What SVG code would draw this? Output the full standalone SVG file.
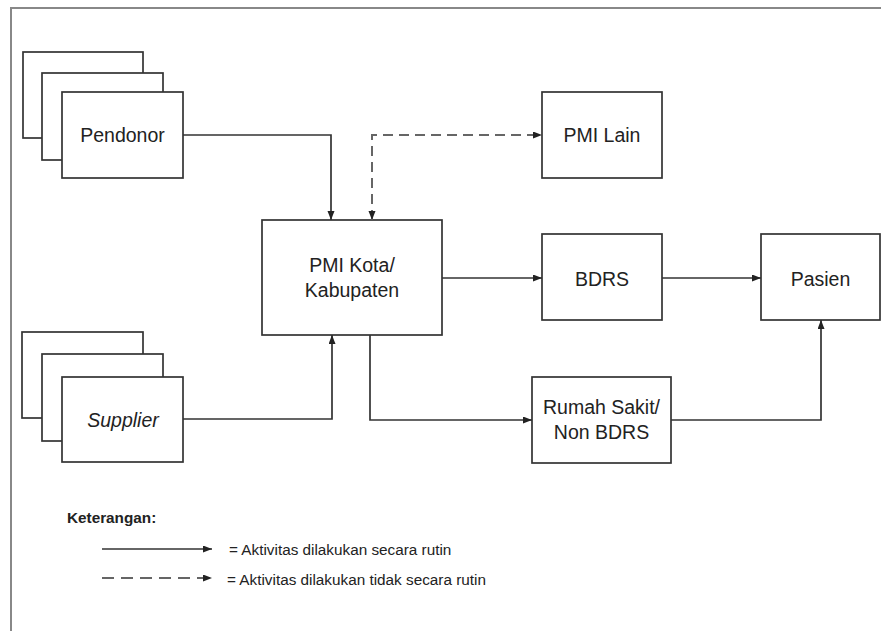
<svg xmlns="http://www.w3.org/2000/svg" width="881" height="631" viewBox="0 0 881 631">
<defs>
<marker id="arr" markerUnits="userSpaceOnUse" markerWidth="10" markerHeight="8" refX="9" refY="3.5" orient="auto-start-reverse">
<path d="M0,0 L9,3.5 L0,7 z" fill="#222"/>
</marker>
</defs>
<style>
.box{fill:#fff;stroke:#333;stroke-width:1.7}
.t{font-family:"Liberation Sans",Arial,sans-serif;font-size:19.5px;fill:#222;text-anchor:middle}
.c{fill:none;stroke:#333;stroke-width:1.7}
.d{fill:none;stroke:#666;stroke-width:2;stroke-dasharray:10 6}
.lg{font-family:"Liberation Sans",Arial,sans-serif;font-size:15.3px;fill:#222}
</style>
<rect width="881" height="631" fill="#fff"/>
<path d="M881,8 H11 V631" fill="none" stroke="#888" stroke-width="2"/>

<g id="pendonor">
<rect class="box" x="23" y="52" width="120" height="86"/>
<rect class="box" x="42" y="73" width="121" height="87"/>
<rect class="box" x="62" y="92" width="121" height="86"/>
<text class="t" x="122.5" y="142">Pendonor</text>
</g>
<g id="supplier">
<rect class="box" x="22" y="332" width="121" height="86"/>
<rect class="box" x="42" y="354" width="121" height="87"/>
<rect class="box" x="62" y="377" width="121" height="85"/>
<text class="t" x="123" y="427" font-style="italic">Supplier</text>
</g>
<g id="pmi-kota">
<rect class="box" x="262" y="220" width="180" height="115"/>
<text class="t" x="352" y="272">PMI Kota/</text>
<text class="t" x="352" y="297">Kabupaten</text>
</g>
<g id="pmi-lain">
<rect class="box" x="542" y="92" width="120" height="86"/>
<text class="t" x="602" y="142">PMI Lain</text>
</g>
<g id="bdrs">
<rect class="box" x="542" y="234" width="120" height="86"/>
<text class="t" x="602" y="286">BDRS</text>
</g>
<g id="pasien">
<rect class="box" x="761" y="234" width="119" height="86"/>
<text class="t" x="820.5" y="286">Pasien</text>
</g>
<g id="rumah-sakit">
<rect class="box" x="532" y="377" width="139" height="86"/>
<text class="t" x="601.5" y="414">Rumah Sakit/</text>
<text class="t" x="601.5" y="439">Non BDRS</text>
</g>

<g id="connectors">
<path class="c" d="M183,135 H331 V220" marker-end="url(#arr)"/>
<path class="c" d="M183,419 H332 V335" marker-end="url(#arr)"/>
<path class="d" d="M372,220 V135 H542" marker-start="url(#arr)" marker-end="url(#arr)"/>
<path class="c" d="M442,278 H542" marker-end="url(#arr)"/>
<path class="c" d="M662,278 H761" marker-end="url(#arr)"/>
<path class="c" d="M370,335 V420 H532" marker-end="url(#arr)"/>
<path class="c" d="M671,420 H821 V320" marker-end="url(#arr)"/>
</g>

<g id="legend">
<text class="lg" x="67" y="523" font-weight="bold">Keterangan:</text>
<path class="c" d="M102,549 H212" marker-end="url(#arr)"/>
<text class="lg" x="229" y="555">= Aktivitas dilakukan secara rutin</text>
<path class="c" d="M102,578 H212" stroke-dasharray="12 7" marker-end="url(#arr)"/>
<text class="lg" x="227" y="585">= Aktivitas dilakukan tidak secara rutin</text>
</g>
</svg>
